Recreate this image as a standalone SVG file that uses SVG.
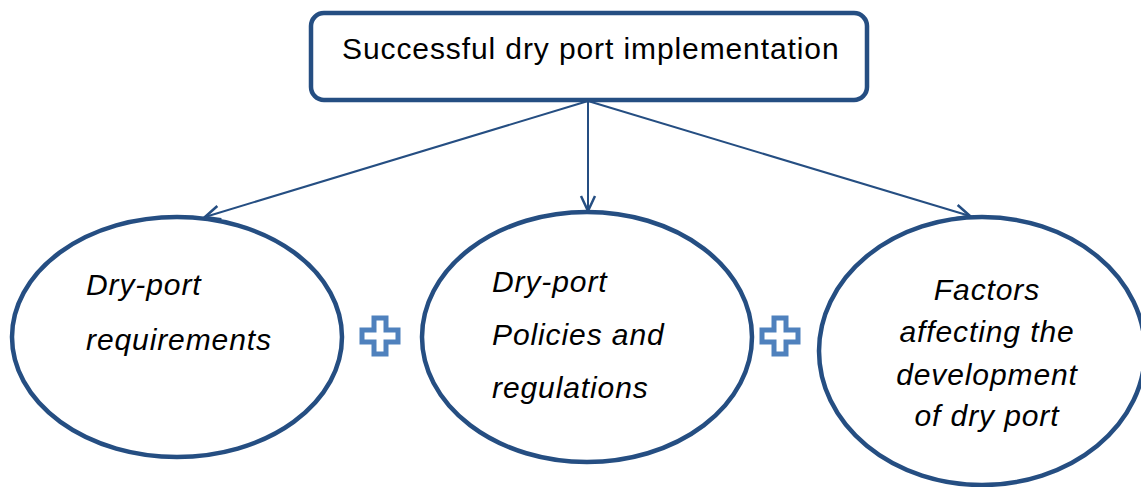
<svg xmlns="http://www.w3.org/2000/svg" width="1141" height="487" viewBox="0 0 1141 487">
<style>
.node{fill:#fff;stroke:#254e82;stroke-width:4.5}
.conn{stroke:#254e82;stroke-width:2;fill:none}
.t{font-family:"Liberation Sans",Arial,sans-serif;font-size:30px;letter-spacing:0.9px;fill:#000}
.i{font-style:italic}
.plus{fill:#fff;stroke:#4f81bd;stroke-width:5}
</style>
<defs>
<marker id="arr" viewBox="0 0 20 20" refX="18" refY="10" markerWidth="20" markerHeight="20" markerUnits="userSpaceOnUse" orient="auto">
<path d="M3,3 L18,10 L3,17" fill="none" stroke="#254e82" stroke-width="2.5"/>
</marker>
</defs>
<g id="connectors">
<line class="conn" x1="588" y1="101" x2="205" y2="217" marker-end="url(#arr)"/>
<line class="conn" x1="588" y1="101" x2="588" y2="211" marker-end="url(#arr)"/>
<line class="conn" x1="588" y1="101" x2="970" y2="216" marker-end="url(#arr)"/>
</g>
<g id="top">
<rect class="node" x="311" y="13" width="556" height="87" rx="13"/>
<text class="t" x="342" y="59">Successful dry port implementation</text>
</g>
<g id="req">
<ellipse class="node" cx="177" cy="337" rx="165" ry="120"/>
<text class="t i" x="86" y="295">Dry-port</text>
<text class="t i" x="86" y="350">requirements</text>
</g>
<g id="plus1">
<polygon class="plus" points="374,318 386,318 386,330 398,330 398,342 386,342 386,354 374,354 374,342 362,342 362,330 374,330"/>
</g>
<g id="policies">
<ellipse class="node" cx="587" cy="337" rx="165" ry="125"/>
<text class="t i" x="492" y="292">Dry-port</text>
<text class="t i" x="492" y="345">Policies and</text>
<text class="t i" x="492" y="398">regulations</text>
</g>
<g id="plus2">
<polygon class="plus" points="774,318 786,318 786,330 798,330 798,342 786,342 786,354 774,354 774,342 762,342 762,330 774,330"/>
</g>
<g id="factors">
<ellipse class="node" cx="982" cy="351" rx="163" ry="134"/>
<text class="t i" x="987" y="300" text-anchor="middle">Factors</text>
<text class="t i" x="987" y="342" text-anchor="middle">affecting the</text>
<text class="t i" x="987" y="385" text-anchor="middle">development</text>
<text class="t i" x="987" y="426" text-anchor="middle">of dry port</text>
</g>
</svg>
